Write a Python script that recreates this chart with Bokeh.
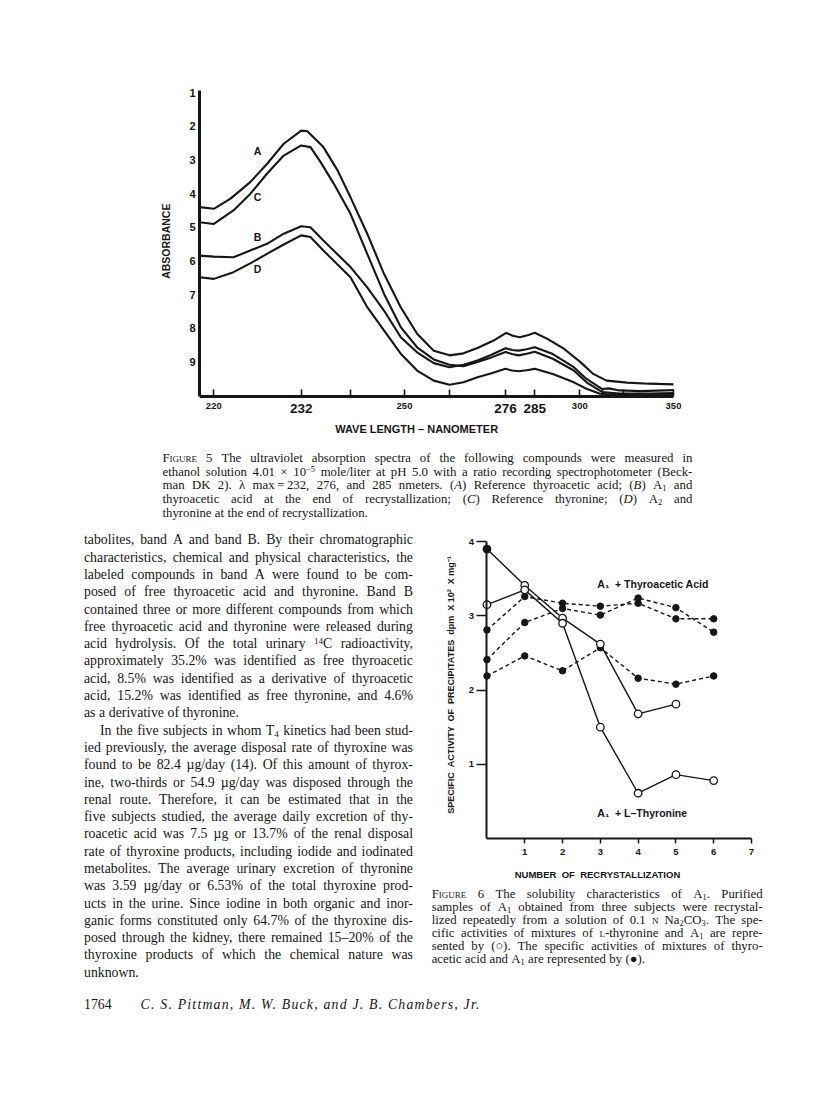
import re
import numpy as np
from bokeh.plotting import figure
from bokeh.models import Range1d, FixedTicker, Label, Div, CustomJSTickFormatter
from bokeh.layouts import column, row
from bokeh.embed import file_html
from bokeh.resources import INLINE
from bokeh.core.properties import value

INK = "#161616"
SANS = "Liberation Sans"

# ---------------- Figure 5 data ----------------
# chart scale of the prism spectrophotometer (non-linear in wavelength)
SCALE_NM = [218, 220, 232, 240, 250, 260, 276, 285, 300, 310, 320, 350]
SCALE_POS = [0.0, 14.3, 101.7, 151.0, 205.0, 250.0, 306.0, 335.3, 380.3, 402.7, 424.3, 474.0]

TICK_NM = [220, 232, 240, 250, 260, 276, 285, 300, 310, 320, 350]
TICK_TEXT = ["220", "232", "", "250", "", "276", "285", "300", "", "", "350"]
TICK_BIG = ["232", "276", "285"]
ABS_TICKS = [1, 2, 3, 4, 5, 6, 7, 8, 9]

A_NM = [218, 220, 222.3, 225, 227.3, 229.6, 232, 233, 235.6, 237.9, 240, 243.1, 246.2, 249.3,
        252.8, 256.5, 260, 264, 268, 272.6, 276.2, 278.2, 280.4, 282.8, 285, 289.2, 294.8,
        300.3, 306, 312, 322, 335, 350]
A_ABS = [4.40, 4.45, 4.15, 3.66, 3.12, 2.52, 2.13, 2.15, 2.62, 3.31, 4.11, 5.19, 6.38, 7.37,
         8.16, 8.66, 8.80, 8.74, 8.58, 8.36, 8.13, 8.22, 8.26, 8.20, 8.13, 8.31, 8.61,
         9.00, 9.35, 9.55, 9.61, 9.64, 9.66]

C_NM = [218, 220, 222.7, 225, 227.3, 229.6, 232, 233.5, 235, 237.3, 240, 243.1, 246.2, 249.3,
        252.8, 256.5, 260, 264, 268, 272, 276, 278, 280, 282.5, 285, 291, 298, 303, 310, 318,
        335, 350]
C_ABS = [4.85, 4.90, 4.50, 4.01, 3.41, 2.87, 2.57, 2.62, 3.02, 3.71, 4.60, 5.79, 6.97, 7.96,
         8.56, 8.92, 9.08, 9.12, 9.00, 8.86, 8.70, 8.76, 8.80, 8.75, 8.69, 8.90, 9.25, 9.60,
         9.89, 9.93, 9.93, 9.92]

B_NM = [218, 220, 222.7, 225, 227.3, 229.6, 232, 233.5, 235.6, 240, 243.1, 246.2, 249.3, 252.8,
        256.5, 260, 264, 268, 272, 276, 278, 280, 282.5, 285, 291, 298, 303, 310, 313, 318,
        330, 350]
B_ABS = [5.84, 5.87, 5.89, 5.69, 5.49, 5.19, 4.97, 5.00, 5.39, 6.18, 6.78, 7.47, 8.26, 8.71,
         9.03, 9.15, 9.08, 8.95, 8.78, 8.59, 8.64, 8.66, 8.62, 8.56, 8.76, 9.15, 9.50, 9.80,
         9.78, 9.84, 9.86, 9.83]

D_NM = [218, 220, 222.7, 225, 227.3, 229.6, 232, 233.5, 235.6, 240, 243.1, 246.2, 249.3, 252.8,
        256.5, 260, 264, 268, 272, 276, 278, 280, 282.5, 285, 291, 298, 303, 309, 315, 330, 350]
D_ABS = [6.48, 6.53, 6.33, 6.07, 5.79, 5.51, 5.24, 5.29, 5.69, 6.48, 7.37, 8.06, 8.75, 9.25,
         9.55, 9.67, 9.60, 9.45, 9.33, 9.20, 9.25, 9.27, 9.24, 9.20, 9.35, 9.60, 9.79, 9.94,
         9.97, 9.96, 9.95]

CURVE_NAMES = ["A", "C", "B", "D"]

# ---------------- Figure 6 data ----------------
RECRYST = [0, 1, 2, 3, 4, 5, 6]
THYRONINE_1 = [3.90, 3.41, 2.97, 2.62, 1.68, 1.81]
THYRONINE_2 = [3.15, 3.35, 2.90, 1.50, 0.61, 0.86, 0.78]
THYROACETIC_1 = [2.81, 3.26, 3.17, 3.13, 3.17, 2.96, 2.96]
THYROACETIC_2 = [2.41, 2.91, 3.10, 3.01, 3.24, 3.11, 2.78]
THYROACETIC_3 = [2.19, 2.46, 2.26, 2.57, 2.16, 2.08, 2.19]
ACTIVITY_TICKS = [1, 2, 3, 4]
RECRYST_TICKS = [1, 2, 3, 4, 5, 6, 7]
SERIES_LABELS = ["A\u2081\u00a0 + Thyroacetic Acid", "A\u2081\u00a0 + L\u2013Thyronine"]

# ---------------- page text ----------------
CAPTION5 = [
    "~Figure~ 5 The ultraviolet absorption spectra of the following compounds were measured in",
    "ethanol solution 4.01 \u00d7 10^{\u22125} mole/liter at pH 5.0 with a ratio recording spectrophotometer (Beck-",
    "man DK 2). \u03bb max\u2009=\u2009232, 276, and 285 nmeters. (*A*) Reference thyroacetic acid; (*B*) A_{1} and",
    "thyroacetic acid at the end of recrystallization; (*C*) Reference thyronine; (*D*) A_{2} and",
    "thyronine at the end of recrystallization.",
]
BODY = [
    "tabolites, band A and band B. By their chromatographic",
    "characteristics, chemical and physical characteristics, the",
    "labeled compounds in band A were found to be com-",
    "posed of free thyroacetic acid and thyronine. Band B",
    "contained three or more different compounds from which",
    "free thyroacetic acid and thyronine were released during",
    "acid hydrolysis. Of the total urinary ^{14}C radioactivity,",
    "approximately 35.2% was identified as free thyroacetic",
    "acid, 8.5% was identified as a derivative of thyroacetic",
    "acid, 15.2% was identified as free thyronine, and 4.6%",
    "as a derivative of thyronine.",
    "In the five subjects in whom T_{4} kinetics had been stud-",
    "ied previously, the average disposal rate of thyroxine was",
    "found to be 82.4 \u00b5g/day (14). Of this amount of thyrox-",
    "ine, two-thirds or 54.9 \u00b5g/day was disposed through the",
    "renal route. Therefore, it can be estimated that in the",
    "five subjects studied, the average daily excretion of thy-",
    "roacetic acid was 7.5 \u00b5g or 13.7% of the renal disposal",
    "rate of thyroxine products, including iodide and iodinated",
    "metabolites. The average urinary excretion of thyronine",
    "was 3.59 \u00b5g/day or 6.53% of the total thyroxine prod-",
    "ucts in the urine. Since iodine in both organic and inor-",
    "ganic forms constituted only 64.7% of the thyroxine dis-",
    "posed through the kidney, there remained 15\u201320% of the",
    "thyroxine products of which the chemical nature was",
    "unknown.",
]
BODY_LAST = {10, 25}
BODY_INDENT = {11}
CAPTION6 = [
    "~Figure~ 6 The solubility characteristics of A_{1}. Purified",
    "samples of A_{1} obtained from three subjects were recrystal-",
    "lized repeatedly from a solution of 0.1 ~n~ Na_{2}CO_{3}. The spe-",
    "cific activities of mixtures of ~l~-thyronine and A_{1} are repre-",
    "sented by (\u25cb). The specific activities of mixtures of thyro-",
    "acetic acid and A_{1} are represented by (\u25cf).",
]
FOOTER_PAGE = "1764"
FOOTER_AUTHORS = "C. S. Pittman, M. W. Buck, and J. B. Chambers, Jr."


def chart_pos(nm):
    return np.interp(nm, SCALE_NM, SCALE_POS)


def style_axis(ax, label_size):
    ax.major_label_text_font = SANS
    ax.major_label_text_font_style = "bold"
    ax.major_label_text_font_size = label_size
    ax.major_label_text_color = INK
    ax.axis_label_text_font = SANS
    ax.axis_label_text_font_style = "bold"
    ax.axis_label_text_color = INK
    ax.axis_line_color = INK
    ax.major_tick_line_color = INK
    ax.minor_tick_line_color = None


# ================= Figure 5 =================
ABS_BOTTOM = 10.02
p5 = figure(width=800, height=445, x_range=Range1d(0, 490), y_range=Range1d(11.356, 0.94),
            min_border_left=199, min_border_right=111, min_border_top=90, min_border_bottom=4,
            output_backend="svg", toolbar_location=None)
p5.grid.visible = False
p5.outline_line_color = None
p5.background_fill_color = "white"
p5.border_fill_color = "white"

for nm, ab in ((A_NM, A_ABS), (C_NM, C_ABS), (B_NM, B_ABS), (D_NM, D_ABS)):
    p5.line(chart_pos(nm), ab, line_color=INK, line_width=2.1)

name_nm = [226.0, 226.0, 226.0, 226.0]
name_abs = [2.75, 4.11, 5.29, 6.23]
p5.text(x=chart_pos(name_nm), y=name_abs, text=CURVE_NAMES, text_font=value(SANS),
        text_font_style="bold", text_font_size="10.5px", text_align="center",
        text_baseline="middle", text_color=INK)

tick_pos = [float(round(v, 2)) for v in chart_pos(TICK_NM)]
small_text = [t if t not in TICK_BIG else "" for t in TICK_TEXT]
xa = p5.xaxis[0]
style_axis(xa, "9.5px")
xa.fixed_location = ABS_BOTTOM
xa.bounds = (0, 474)
xa.ticker = FixedTicker(ticks=tick_pos)
xa.formatter = CustomJSTickFormatter(args=dict(pos=tick_pos, lab=small_text), code="""
for (let i = 0; i < pos.length; i++) { if (Math.abs(pos[i] - tick) < 0.01) { return lab[i]; } }
return "";
""")
xa.axis_line_width = 3
xa.major_tick_in = 7
xa.major_tick_out = 0
xa.major_tick_line_width = 1.6
xa.major_label_standoff = 7
xa.axis_label = "WAVE LENGTH \u2013 NANOMETER" + "\u00a0" * 13
xa.axis_label_text_font_size = "11px"
xa.axis_label_standoff = 10

for t, txt in zip(TICK_NM, TICK_TEXT):
    if txt in TICK_BIG:
        p5.add_layout(Label(x=float(chart_pos(t)), y=ABS_BOTTOM, y_offset=-12, text=txt,
                            text_align="center", text_baseline="middle", text_font=SANS,
                            text_font_style="bold", text_font_size="13.5px", text_color=INK))

ya = p5.yaxis[0]
style_axis(ya, "11px")
ya.bounds = (0.94, ABS_BOTTOM)
ya.ticker = FixedTicker(ticks=ABS_TICKS)
ya.axis_line_width = 3
ya.major_tick_in = 0
ya.major_tick_out = 0
ya.major_label_standoff = 4
ya.axis_label = "\u00a0" * 17 + "ABSORBANCE"
ya.axis_label_text_font_size = "10.5px"
ya.axis_label_standoff = 14

# ================= Figure 6 =================
p6 = figure(width=377, height=367, x_range=Range1d(-1.15, 7.0), y_range=Range1d(0, 4.15),
            min_border_left=20, min_border_right=49, min_border_top=10, min_border_bottom=49,
            output_backend="svg", toolbar_location=None)
p6.grid.visible = False
p6.outline_line_color = None
p6.background_fill_color = "white"
p6.border_fill_color = "white"

for ys in (THYROACETIC_1, THYROACETIC_2, THYROACETIC_3):
    p6.line(RECRYST[:len(ys)], ys, line_color=INK, line_width=1.4, line_dash="4 3")
for ys in (THYRONINE_1, THYRONINE_2):
    p6.line(RECRYST[:len(ys)], ys, line_color=INK, line_width=1.4)
for ys in (THYROACETIC_1, THYROACETIC_2, THYROACETIC_3):
    p6.scatter(RECRYST[:len(ys)], ys, marker="circle", size=6.5, fill_color=INK, line_color=INK)
for k, ys in enumerate((THYRONINE_1, THYRONINE_2)):
    fills = [INK if (k == 0 and i == 0) else "white" for i in range(len(ys))]
    p6.scatter(RECRYST[:len(ys)], ys, marker="circle", size=7.5, fill_color=fills,
               line_color=INK, line_width=1.3)

p6.text(x=[2.92, 2.92], y=[3.43, 0.35], text=SERIES_LABELS, text_font=value(SANS),
        text_font_style="bold", text_font_size="10.5px", text_align="left",
        text_baseline="middle", text_color=INK)

xb = p6.xaxis[0]
style_axis(xb, "9.5px")
xb.bounds = (0, 7)
xb.ticker = FixedTicker(ticks=RECRYST_TICKS)
xb.axis_line_width = 2
xb.major_tick_in = 0
xb.major_tick_out = 5
xb.major_tick_line_width = 1.5
xb.major_label_standoff = 5
xb.axis_label = "NUMBER \u00a0OF \u00a0RECRYSTALLIZATION"
xb.axis_label_text_font_size = "9.5px"
xb.axis_label_standoff = 11

yb = p6.yaxis[0]
style_axis(yb, "9.5px")
yb.fixed_location = 0
yb.bounds = (0, 4)
yb.ticker = FixedTicker(ticks=ACTIVITY_TICKS)
yb.axis_line_width = 2
yb.major_tick_in = 0
yb.major_tick_out = 10
yb.major_tick_line_width = 1.5
yb.major_label_standoff = 3
yb.axis_label = ("\u00a0" * 4 + "SPECIFIC \u00a0ACTIVITY \u00a0OF \u00a0PRECIPITATES \u00a0dpm "
                 "\u00a0X 10\u00b2 \u00a0X mg\u207b\u00b9")
yb.axis_label_text_font_size = "9px"
yb.axis_label_standoff = 9

# ================= text blocks =================
SUP = '<sup style="font-size:0.66em;line-height:0;vertical-align:0.45em">\\1</sup>'
SUBS = '<sub style="font-size:0.66em;line-height:0;vertical-align:-0.25em">\\1</sub>'


def md(word):
    word = re.sub(r"\^\{(.*?)\}", SUP, word)
    word = re.sub(r"_\{(.*?)\}", SUBS, word)
    word = re.sub(r"\*(.*?)\*", r"<i>\1</i>", word)
    word = re.sub(r"~(.*?)~", r'<span style="font-variant:small-caps">\1</span>', word)
    return word


def block(lines, last=(), indent=(), lh=16.8, indent_px=16):
    out = []
    for i, ln in enumerate(lines):
        words = [md(w) for w in ln.split(" ") if w]
        pad = f"padding-left:{indent_px}px;" if i in indent else ""
        if i in last:
            css = "display:flex;justify-content:flex-start;column-gap:0.26em;"
        else:
            css = "display:flex;justify-content:space-between;"
        out.append(f'<div style="{css}{pad}height:{lh}px;line-height:{lh}px;'
                   f'align-items:baseline;white-space:nowrap">'
                   + "".join(f"<span>{w}</span>" for w in words) + "</div>")
    return "".join(out)


SERIF = "font-family:'Liberation Serif','Times New Roman',serif;color:#161616;"

cap5_html = (f'<div style="{SERIF}font-size:12.8px;width:530px;margin-left:162.5px;'
             f'padding-top:7.2px">' + block(CAPTION5, last={4}, lh=13.6) + "</div>")
cap5 = Div(text=cap5_html, width=800, height=75, margin=(0, 0, 0, 0))

body_html = (f'<div style="{SERIF}font-size:13.8px;width:329px;margin-left:84px;'
             f'padding-top:11.35px">' + block(BODY, last=BODY_LAST, indent=BODY_INDENT, lh=17.3)
             + "</div>")
body = Div(text=body_html, width=423, height=470, margin=(0, 0, 0, 0))

cap6_html = (f'<div style="{SERIF}font-size:12.8px;width:331px;margin-left:8.7px;'
             f'padding-top:0.8px">' + block(CAPTION6, last={5}, lh=13.0) + "</div>")
cap6 = Div(text=cap6_html, width=377, height=103, margin=(0, 0, 0, 0))

foot_html = (f'<div style="{SERIF}font-size:13.8px;margin-left:84px;padding-top:6.35px;'
             f'white-space:nowrap;line-height:17.3px"><span>{FOOTER_PAGE}</span>'
             f'<span style="margin-left:29px;font-style:italic;letter-spacing:1.2px">'
             f'{FOOTER_AUTHORS}</span></div>')
foot = Div(text=foot_html, width=800, height=32, margin=(0, 0, 0, 0))

page = column(p5, cap5, row(body, column(p6, cap6, spacing=0), spacing=0), foot, spacing=0)

open("out.html", "w").write(file_html(page, INLINE))
